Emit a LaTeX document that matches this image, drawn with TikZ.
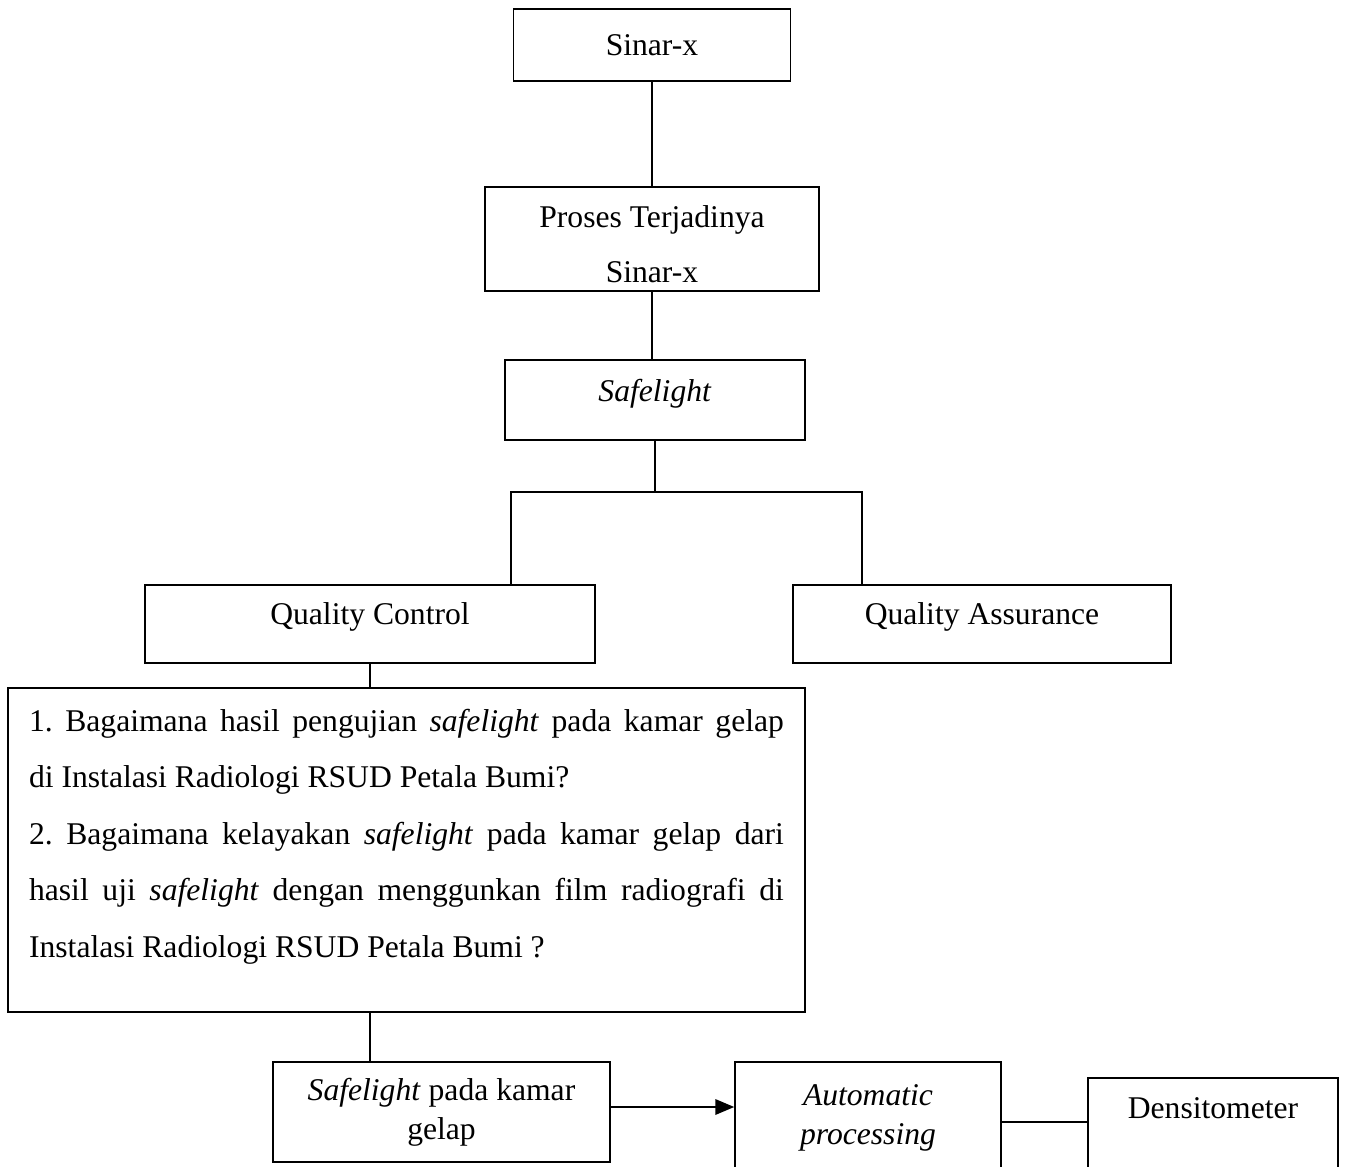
\documentclass[tikz,border=0pt]{standalone}
\usepackage{fontspec}
\setmainfont{Liberation Serif}
\usetikzlibrary{arrows}

\tikzset{
  kotak/.style={draw, line width=1pt, inner sep=0pt, align=center,
                font=\fontsize{18}{22}\selectfont},
  satu/.style={kotak, text height=0.57cm, text depth=0.15cm},
  garis/.style={line width=1.1pt}
}

\begin{document}
\frenchspacing
\begin{tikzpicture}[x=0.02cm, y=-0.02cm]
\useasboundingbox (0,0) rectangle (1347,1167);

% kotak atas
\node[satu, minimum width=5.54cm, minimum height=1.44cm] (sinar) at (652,45) {Sinar-x};
\node[kotak, minimum width=6.68cm, minimum height=2.08cm, text height=1.74cm,
      font=\fontsize{18}{31.3}\selectfont] (proses) at (652,239) {Proses Terjadinya\\Sinar-x};
\node[satu, text depth=0.51cm, minimum width=6cm, minimum height=1.6cm] (safelight) at (655,400) {\textit{Safelight}};

% cabang QC dan QA
\node[satu, text depth=0.55cm, minimum width=9cm, minimum height=1.56cm] (qc) at (370,624) {Quality Control};
\node[satu, text depth=0.55cm, minimum width=7.56cm, minimum height=1.56cm] (qa) at (982,624) {Quality Assurance};

% rumusan masalah
\node[kotak, align=justify, text width=15.1cm, inner xsep=0.42cm,
      minimum height=6.48cm, text depth=5.2cm,
      font=\fontsize{18}{32.2}\selectfont] (rumusan) at (406.5,850)
  {1. Bagaimana hasil pengujian \textit{safelight} pada kamar gelap\linebreak
   di Instalasi Radiologi RSUD Petala Bumi?\par
   2. Bagaimana kelayakan \textit{safelight} pada kamar gelap dari\linebreak
   hasil uji \textit{safelight} dengan menggunkan film radiografi di\linebreak
   Instalasi Radiologi RSUD Petala Bumi ?};

% kotak bawah
\node[kotak, minimum width=6.74cm, minimum height=2cm] (spk) at (441.5,1112) {\textit{Safelight} pada kamar\\gelap};
\node[kotak, minimum width=5.32cm, minimum height=2.24cm] (auto) at (868,1118) {\textit{Automatic}\\\textit{processing}};
\node[satu, text depth=0.99cm, minimum width=5cm, minimum height=2.04cm] (densito) at (1213,1129) {Densitometer};

% garis
\coordinate (cabang) at (651,492);
\draw[garis] (sinar.south) -- (sinar.south |- proses.north);
\draw[garis] (proses.south) -- (proses.south |- safelight.north);
\draw[garis] (safelight.south) -- (safelight.south |- cabang);
\draw[garis] ([xshift=2.82cm]qc.north) |- (cabang) -| ([xshift=-2.4cm]qa.north);
\draw[garis] (qc.south) -- (qc.south |- rumusan.north);
\draw[garis] (qc.south |- rumusan.south) -- (qc.south |- spk.north);
\draw[line width=1.5pt, -triangle 45] ([yshift=0.1cm]spk.east) -- ([yshift=0.1cm]spk.east -| auto.west);
\draw[garis] ([yshift=-0.08cm]auto.east) -- ([yshift=-0.08cm]auto.east -| densito.west);

\end{tikzpicture}
\end{document}
